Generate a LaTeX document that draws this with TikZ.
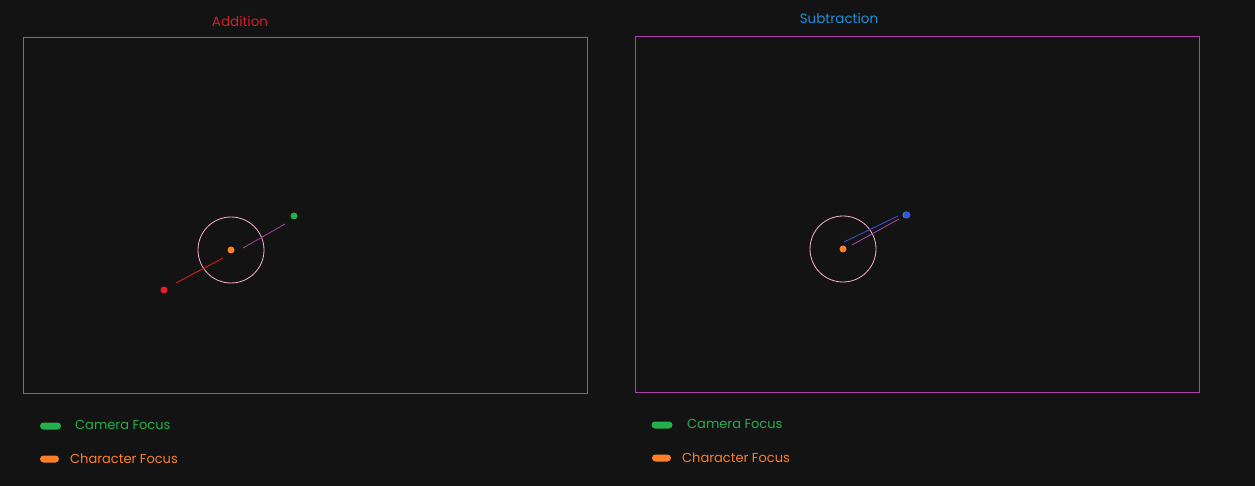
\documentclass[tikz,border=0pt]{standalone}
\usepackage{fontspec}
\setmainfont{Poppins}
\definecolor{bg}{HTML}{131313}
\definecolor{cgreen}{HTML}{22B14C}
\definecolor{corange}{HTML}{FF7F27}
\definecolor{cred}{HTML}{ED1C24}
\definecolor{cpink}{HTML}{FFB0D0}
\definecolor{cpurple}{HTML}{A848A8}
\definecolor{cblue}{HTML}{4050E0}
\definecolor{ctitlered}{HTML}{D0202E}
\definecolor{ctitleblue}{HTML}{1E90D8}
\definecolor{frameL}{HTML}{9A5A9A}
\definecolor{frameR}{HTML}{B040B0}
\tikzset{
  dot/.style={circle, fill=#1, inner sep=0pt, minimum size=7pt},
  pill/.style={rounded corners=3.5pt, fill=#1, minimum width=21pt, minimum height=7pt, inner sep=0pt},
  legend/.style={anchor=west, text=#1, font=\fontsize{13}{15}\selectfont, inner sep=0pt},
  title/.style={text=#1, font=\fontsize{13.5}{15}\selectfont, inner sep=0pt},
}
\begin{document}
\begin{tikzpicture}[x=1pt,y=-1pt]
\useasboundingbox[fill=bg] (0,0) rectangle (1255,486);
% Addition panel
\node[title=ctitlered] (tA) at (240,21) {Addition};
\draw[frameL, line width=1pt] (23,38) rectangle (587,393);
\node[circle, draw=cpink, line width=0.8pt, minimum size=66pt, inner sep=0pt] (cA) at (231,250) {};
\node[dot=corange] (oA) at (231,250) {};
\node[dot=cgreen] (gA) at (294,216) {};
\node[dot=cred] (rA) at (164,290) {};
\coordinate (pA1) at (243,248);
\coordinate (pA2) at (285,224);
\coordinate (rA1) at (176,283);
\coordinate (rA2) at (223,258);
\draw[cpurple, line width=0.8pt] (pA1) -- (pA2);
\draw[cred, line width=0.8pt] (rA1) -- (rA2);
% Subtraction panel
\node[title=ctitleblue] (tS) at (839,18) {Subtraction};
\draw[frameR, line width=1pt] (635,36.5) rectangle (1199,392);
\node[circle, draw=cpink, line width=0.8pt, minimum size=66pt, inner sep=0pt] (cS) at (843,249) {};
\node[dot=corange] (oS) at (843,249) {};
\node[dot=cgreen] (gS) at (906,215) {};
\node[dot=cblue] (bS) at (907,215) {};
\coordinate (bS1) at (844,242);
\coordinate (bS2) at (898,216);
\coordinate (pS1) at (852,245);
\coordinate (pS2) at (899,219);
\draw[cblue, line width=0.8pt] (bS1) -- (bS2);
\draw[cpurple, line width=0.8pt] (pS1) -- (pS2);
% Legends
\node[pill=cgreen] (lgA) at (50.5,426) {};
\node[legend=cgreen] (ltgA) at (75,425) {Camera Focus};
\node[pill=corange, minimum width=19pt] (loA) at (49.5,459) {};
\node[legend=corange] (ltoA) at (70,459) {Character Focus};
\node[pill=cgreen] (lgS) at (662,425) {};
\node[legend=cgreen] (ltgS) at (687,424) {Camera Focus};
\node[pill=corange, minimum width=19pt] (loS) at (661.5,458) {};
\node[legend=corange] (ltoS) at (682,458) {Character Focus};
\end{tikzpicture}
\end{document}
